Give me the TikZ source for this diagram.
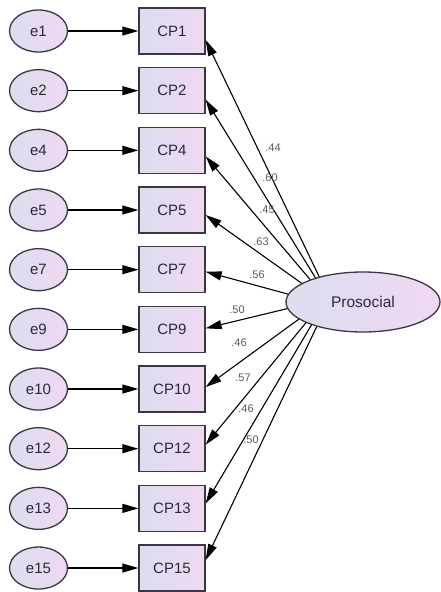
\documentclass[tikz,border=0pt]{standalone}
\usepackage{fontspec}
\setmainfont{Liberation Sans}
\usetikzlibrary{arrows.meta,calc,shapes.geometric}
\definecolor{edgec}{HTML}{383846}
\definecolor{fillL}{HTML}{DCDDEE}
\definecolor{fillR}{HTML}{F0D8F2}
\definecolor{txt}{HTML}{2A2A36}
\definecolor{coef}{HTML}{5A5A5A}
\begin{document}
\begin{tikzpicture}[x=1pt,y=-1pt,
  errnode/.style={ellipse,draw=edgec,line width=1.3pt,left color=fillL,right color=fillR,
    minimum width=58pt,minimum height=42pt,inner sep=0pt,text=txt,font=\fontsize{15}{17}\selectfont},
  obsbox/.style={rectangle,draw=edgec,line width=1.3pt,left color=fillL,right color=fillR,
    minimum width=66pt,minimum height=46pt,inner sep=0pt,text=txt,font=\fontsize{15}{17}\selectfont},
  latent/.style={ellipse,draw=edgec,line width=1.3pt,left color=fillL,right color=fillR,
    minimum width=154pt,minimum height=60pt,inner sep=0pt,text=txt,font=\fontsize{15.5}{17}\selectfont},
  arr/.style={-{Triangle[length=16pt,width=9pt]},line width=1.1pt,black},
  coefl/.style={font=\fontsize{11}{12}\selectfont,text=coef,inner sep=0pt}
]
\useasboundingbox (0,0) rectangle (441,592);
\foreach \k/\i in {1/0,2/1,4/2,5/3,7/4,9/5,10/6,12/7,13/8,15/9}{
  \node[errnode] (e\k) at (38.5,{31+59.67*\i}) {e\k};
  \node[obsbox] (CP\k) at (172,{31+59.67*\i}) {CP\k};
  \draw[arr] (e\k) -- (CP\k);
}
\node[latent] (P) at (363,302) {Prosocial};
\foreach \k/\a/\o in {1/150/9,2/153/9,4/157/6,5/163/5,7/174/2,9/185/-1,10/195/-2,12/200/-4,13/204/-5,15/208/-8}{
  \draw[arr] (P.\a) -- ($(CP\k.east)+(0,\o)$);
}
\node[coefl] (c1) at (273,148) {.44};
\node[coefl] (c2) at (270,178) {.60};
\node[coefl] (c4) at (267,210) {.45};
\node[coefl] (c5) at (261,242) {.63};
\node[coefl] (c7) at (257,275) {.56};
\node[coefl] (c9) at (237,310) {.50};
\node[coefl] (c10) at (239,343) {.46};
\node[coefl] (c12) at (243,378) {.57};
\node[coefl] (c13) at (246,409) {.46};
\node[coefl] (c15) at (251,440) {.50};
\end{tikzpicture}
\end{document}
